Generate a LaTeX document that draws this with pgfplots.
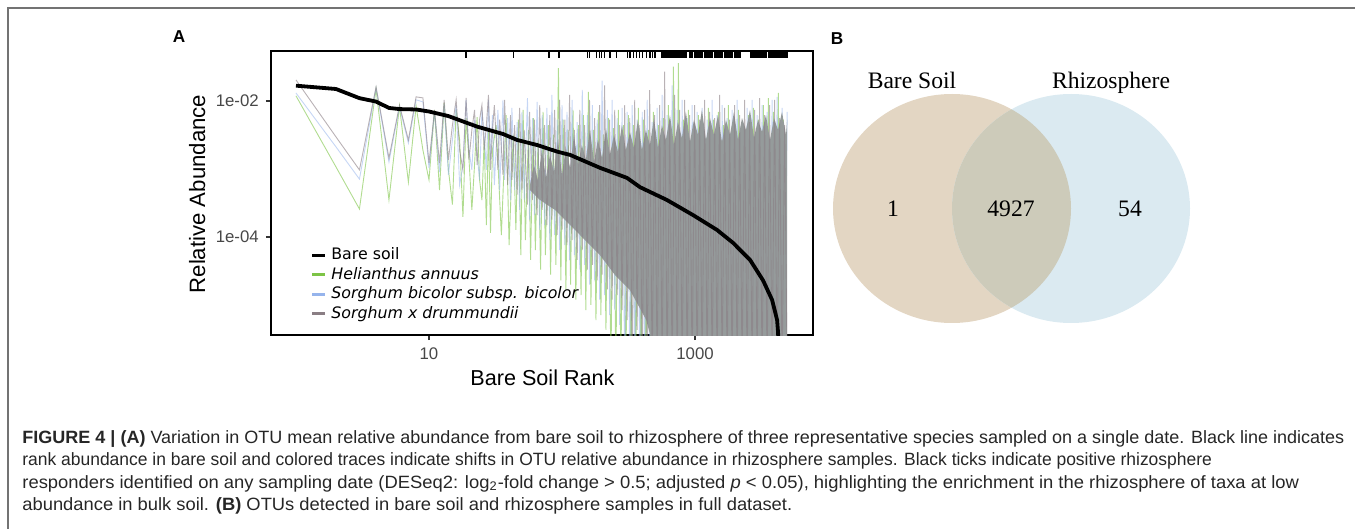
\documentclass[border=0pt]{standalone}
\usepackage{pgfplots}
\pgfplotsset{compat=1.18}
\usepackage{fontspec}
\setmainfont{Liberation Sans}
\newfontfamily\dejavu{DejaVu Sans}
\newfontfamily\serifv{Liberation Serif}

\definecolor{cgreen}{RGB}{125,196,70}
\definecolor{cblue}{RGB}{150,180,236}
\definecolor{cmauve}{RGB}{138,126,132}
\definecolor{ccore}{RGB}{149,155,155}
\definecolor{venL}{RGB}{227,214,195}
\definecolor{venR}{RGB}{219,234,241}
\definecolor{venO}{RGB}{205,203,186}

\begin{document}
\begin{tikzpicture}
\path[use as bounding box] (0,0) rectangle (677.5pt,-264.5pt);

\begin{axis}[
  at={(135.5pt,-167.5pt)}, anchor=south west,
  scale only axis, width=271pt, height=142pt,
  xmode=log, ymode=log,
  xmin=0.649, xmax=7709, ymin=3.62e-6, ymax=0.0543,
  xtick={10,1000}, xticklabels={10,1000},
  ytick={1e-4,1e-2}, yticklabels={1e-04,1e-02},
  minor xtick={}, minor ytick={},
  minor tick style={draw=none},
  xtick pos=bottom, ytick pos=left,
  tick align=outside, major tick length=2.6pt,
  tick style={line width=1.1pt, black!80},
  axis line style={line width=1pt},
  ticklabel style={font=\fontsize{8.4}{10}\selectfont, text=black!72},
]

% Helianthus annuus
\addplot[cgreen, opacity=0.6, line width=0.45pt, forget plot] coordinates {
 (1,1.19e-2) (2,1.07e-3) (3,2.58e-4) (4,1.5e-2) (5,3.5e-4) (6,8.4e-3) (7,6.4e-4) (8,8.4e-3) (9,1.9e-3) (10,6.9e-4)
 (11,7.4e-3) (12,4.9e-4) (13,9.4e-3) (14,9.7e-4) (15,3.0e-4) (16,7.4e-3) (17,2.67e-3) (18,1.97e-4) (19,5.6e-3) (20,1.36e-3)
 (21,2.5e-4) (22,1.15e-3) (23,5.8e-3) (24,6.9e-4) (25,3.5e-4) (26,2.67e-3) (27,1.5e-4) (28,3.75e-3) (29,1.15e-4) (30,1.9e-3)
 (32,4.4e-3) (35,1.07e-4) (38,6.2e-3) (40,7.6e-5) (43,3.2e-3) (45,1.27e-4) (47,5.3e-3) (49,5.4e-5) (51,7.4e-3) (53,9.0e-5)
 (56,3.75e-3) (58,4.6e-5) (61,5.6e-3) (63,6.4e-5) (66,2.7e-3) (69,3.3e-5) (72,6.9e-3) (75,5.4e-5) (79,4.4e-3) (82,2.8e-5)
 (86,3.2e-3) (90,3.9e-5) (94,3.05e-2) (98,2.3e-5)
 (102,5.3e-3) (107,1.7e-5) (111,3.75e-3) (116,2.0e-5) (121,7.4e-3) (127,1.2e-5) (133,4.4e-3) (139,1.4e-5) (145,6.2e-3) (151,8.4e-6)
 (158,1.36e-2) (165,1.0e-5) (172,3.75e-3) (180,6.0e-6) (188,6.9e-3) (196,7.1e-6) (204,3.2e-3) (214,4.3e-6) (223,5.6e-3) (233,1e-6)
 (243,4.0e-3) (254,1e-6) (265,7.4e-3) (277,1e-6) (289,4.4e-3) (302,1e-6)
 (316,6.2e-3) (330,1e-6) (344,4.4e-3) (359,1e-6) (375,7.9e-3) (392,1e-6) (409,5.3e-3) (427,1e-6) (446,3.75e-3) (466,1e-6)
 (486,6.9e-3) (508,1e-6) (530,4.4e-3) (554,1e-6) (578,5.6e-3) (604,1e-6) (631,8.7e-3) (659,1e-6) (688,3.2e-2) (718,1e-6)
 (750,3.6e-2) (783,1e-6) (818,5.3e-3) (854,1e-6) (892,7.4e-3) (931,1e-6) (972,4.4e-3) (1015,1e-6)
 (1060,6.2e-3) (1107,1e-6) (1156,4.0e-3) (1207,1e-6) (1260,7.9e-3) (1316,1e-6) (1374,5.3e-3) (1435,1e-6) (1498,6.9e-3) (1565,1e-6)
 (1634,4.4e-3) (1706,1e-6) (1781,8.7e-3) (1860,1e-6) (1942,5.6e-3) (2028,1e-6) (2118,7.4e-3) (2211,1e-6) (2309,4.4e-3) (2411,1e-6)
 (2517,6.2e-3) (2628,1e-6) (2745,7.9e-3) (2866,1e-6) (2993,5.3e-3) (3125,1e-6) (3263,8.7e-3) (3407,1e-6) (3558,1.1e-2) (3715,1e-6)
 (3879,6.9e-3) (4050,1e-6) (4229,1.31e-2) (4416,1e-6) (4611,5.3e-3) (4820,1e-6)
};

% Sorghum bicolor subsp. bicolor
\addplot[cblue, opacity=0.55, line width=0.45pt, forget plot] coordinates {
 (1,1.31e-2) (2,2.11e-3) (3,7.1e-4) (4,1.55e-2) (5,1.27e-3) (6,8.2e-3) (7,2.41e-3) (8,1.04e-2) (9,9.7e-3) (10,1.03e-3)
 (11,6.9e-3) (12,9.0e-4) (13,9.0e-3) (14,8.2e-4) (15,2.67e-3) (16,8.7e-3) (17,5.8e-4) (18,1.15e-3) (19,1.04e-2) (20,1.9e-3)
 (21,9.7e-4) (22,5.3e-3) (23,1.61e-3) (24,6.9e-4) (25,7.4e-3) (26,3.2e-3) (27,9.7e-4) (28,1.04e-2) (29,1.36e-3) (30,6.2e-3)
 (31,5.8e-4) (33,7.4e-3) (34,4.9e-4) (36,1.04e-2) (37,6.9e-4) (39,5.6e-3) (41,3.5e-4) (42,7.9e-3) (44,4.9e-4) (46,4.9e-3)
 (48,2.5e-4) (50,6.9e-3) (52,3.5e-4) (55,1.1e-2) (57,1.8e-4) (60,5.6e-3) (62,2.1e-4) (65,9.7e-3) (68,1.27e-4) (71,6.2e-3)
 (74,1.5e-4) (77,7.9e-3) (81,9.0e-5) (84,1.23e-2) (88,1.07e-4) (92,5.3e-3) (96,6.4e-5) (100,8.7e-3)
 (105,7.6e-5) (109,6.9e-3) (114,4.6e-5) (119,1.04e-2) (124,5.4e-5) (130,4.9e-3) (136,3.3e-5) (142,1.45e-2) (148,3.9e-5) (155,6.2e-3)
 (161,2.0e-5) (169,8.7e-3) (176,2.3e-5) (184,5.3e-3) (192,1.2e-5) (200,2.0e-2) (209,1.4e-5) (219,7.4e-3) (228,7.1e-6) (238,1.04e-2)
 (249,8.4e-6) (260,5.6e-3) (271,5.1e-6) (283,7.9e-3) (296,1e-6) (309,6.9e-3)
 (323,1e-6) (337,8.7e-3) (352,1e-6) (367,5.3e-3) (384,1e-6) (401,6.9e-3) (418,1e-6) (437,1.04e-2) (456,1e-6) (476,4.9e-3)
 (497,1e-6) (519,7.9e-3) (542,1e-6) (566,1.23e-2) (591,1e-6) (617,6.2e-3) (645,1e-6) (673,1.7e-2) (703,1e-6) (734,7.4e-3)
 (766,1e-6) (800,1.04e-2) (836,1e-6) (873,5.6e-3) (911,1e-6) (951,8.7e-3) (993,1e-6) (1037,6.9e-3)
 (1083,1e-6) (1131,7.9e-3) (1181,1e-6) (1233,5.3e-3) (1288,1e-6) (1345,1.04e-2) (1404,1e-6) (1466,6.2e-3) (1531,1e-6) (1599,8.7e-3)
 (1669,1e-6) (1743,5.6e-3) (1820,1e-6) (1900,7.4e-3) (1984,1e-6) (2072,1.04e-2) (2164,1e-6) (2259,4.9e-3) (2359,1e-6) (2463,7.9e-3)
 (2572,1e-6) (2686,1.04e-2) (2805,1e-6) (2929,6.2e-3) (3058,1e-6) (3193,8.7e-3) (3334,1e-6) (3482,6.9e-3) (3636,1e-6) (3796,1.04e-2)
 (3964,1e-6) (4140,1.15e-2) (4322,1e-6) (4514,7.9e-3) (4713,1e-6) (4928,6.9e-3)
};

% solid grey core where the traces overlap (jagged top edge)
\addplot[fill=ccore, draw=none, forget plot] coordinates {
 (57.4,5.8e-4) (61.5,1.15e-3) (65.9,6.9e-4) (70.6,1.9e-3) (75.7,7.4e-4) (81.2,1.61e-3) (87,9.0e-4) (93.2,2.67e-3)
 (99.9,8.2e-4) (107,2.04e-3) (115,1.03e-3) (123,3.16e-3) (132,1.15e-3) (141,2.25e-3) (151,1.36e-3) (162,3.75e-3)
 (174,1.27e-3) (186,2.67e-3) (200,1.45e-3) (214,4.0e-3) (229,1.61e-3) (246,3.16e-3) (263,1.78e-3) (282,4.4e-3)
 (302,1.9e-3) (324,3.5e-3) (347,2.04e-3) (372,5.3e-3) (399,1.9e-3) (427,3.75e-3) (458,2.25e-3) (491,5.6e-3)
 (526,2.04e-3) (564,4.4e-3) (604,2.67e-3) (648,6.2e-3) (694,2.25e-3) (744,4.9e-3) (797,2.86e-3) (854,6.9e-3)
 (916,2.5e-3) (981,5.3e-3) (1052,3.16e-3) (1127,7.4e-3) (1208,2.67e-3) (1295,5.6e-3) (1388,3.16e-3) (1487,6.2e-3)
 (1594,2.5e-3) (1708,5.3e-3) (1831,3.16e-3) (1962,6.9e-3) (2103,2.67e-3) (2254,5.6e-3) (2415,3.75e-3) (2589,7.4e-3)
 (2774,2.86e-3) (2973,5.3e-3) (3187,3.5e-3) (3415,6.2e-3) (3660,2.67e-3) (3923,5.6e-3) (4204,3.75e-3) (4506,6.9e-3)
 (4829,3.16e-3) (4928,5.3e-3)
 (4928,1e-6) (546,1e-6) (430,6e-6) (324,1.66e-5) (250,2.76e-5) (193,5.4e-5)
 (149,9.0e-5) (115,1.5e-4) (88.6,2.5e-4) (68.3,3.5e-4) (57.4,4.9e-4)
} -- cycle;

% Sorghum x drummundii
\addplot[cmauve, opacity=0.6, line width=0.45pt, forget plot] coordinates {
 (1,2.04e-2) (2,2.96e-3) (3,9.7e-4) (4,1.61e-2) (5,1.45e-3) (6,8.7e-3) (7,2.67e-3) (8,1.15e-2) (9,1.11e-2) (10,1.22e-3)
 (11,7.4e-3) (12,1.22e-3) (13,1.04e-2) (14,1.36e-3) (15,4.4e-3) (16,1.04e-2) (17,1.9e-3) (18,9.7e-4) (19,1.11e-2) (20,1.36e-3)
 (21,3.75e-3) (22,7.4e-3) (23,1.15e-3) (24,5.3e-3) (25,8.7e-3) (26,1.9e-3) (27,4.4e-3) (28,1.23e-2) (29,9.7e-4) (30,3.75e-3)
 (31,8.7e-3) (33,9.7e-4) (34,5.3e-3) (36,8.2e-4) (37,1.04e-2) (39,5.8e-4) (41,6.2e-3) (42,6.9e-4) (44,4.4e-3) (46,4.2e-4)
 (48,7.9e-3) (50,4.9e-4) (52,3.75e-3) (55,3.0e-4) (57,6.9e-3) (60,3.5e-4) (62,5.3e-3) (65,2.1e-4) (68,8.7e-3) (71,2.5e-4)
 (74,4.4e-3) (77,1.5e-4) (81,6.2e-3) (84,1.8e-4) (88,7.4e-3) (92,1.07e-4) (96,1.04e-2) (100,1.27e-4)
 (105,5.3e-3) (109,7.6e-5) (114,1.23e-2) (119,9.0e-5) (124,3.75e-3) (130,4.6e-5) (136,7.4e-3) (142,6.4e-5) (148,4.4e-3) (155,3.3e-5)
 (161,1.04e-2) (169,3.9e-5) (176,5.6e-3) (184,2.3e-5) (192,8.7e-3) (200,2.8e-5) (209,1.7e-2) (219,1.7e-5) (228,5.3e-3) (238,1.2e-5)
 (249,7.4e-3) (260,1.4e-5) (271,4.4e-3) (283,8.4e-6) (296,8.7e-3) (309,6.0e-6)
 (323,5.6e-3) (337,1e-6) (352,1.04e-2) (367,4.3e-6) (384,4.4e-3) (401,1e-6) (418,7.4e-3) (437,1e-6) (456,1.45e-2) (476,1e-6)
 (497,6.2e-3) (519,1e-6) (542,8.7e-3) (566,1e-6) (591,2.7e-2) (617,1e-6) (645,5.3e-3) (673,1e-6) (703,1.23e-2) (734,1e-6)
 (766,7.4e-3) (800,1e-6) (836,1.04e-2) (873,1e-6) (911,6.2e-3) (951,1e-6) (993,8.7e-3) (1037,1e-6)
 (1083,5.3e-3) (1131,1e-6) (1181,1.04e-2) (1233,1e-6) (1288,6.9e-3) (1345,1e-6) (1404,5.6e-3) (1466,1e-6) (1531,1.23e-2) (1599,1e-6)
 (1669,7.9e-3) (1743,1e-6) (1820,5.3e-3) (1900,1e-6) (1984,8.7e-3) (2072,1e-6) (2164,6.2e-3) (2259,1e-6) (2359,1.04e-2) (2463,1e-6)
 (2572,4.9e-3) (2686,1e-6) (2805,7.4e-3) (2929,1e-6) (3058,1.1e-2) (3193,1e-6) (3334,6.2e-3) (3482,1e-6) (3636,8.7e-3) (3796,1e-6)
 (3964,1.04e-2) (4140,1e-6) (4322,5.6e-3) (4514,1e-6) (4713,4.4e-3) (4928,1e-6)
};

% Bare soil rank abundance
\addplot[black, line width=1.9pt, line join=round, forget plot] coordinates {
 (1,0.0168) (2,0.0150) (3,0.0110) (4,0.0098) (5,0.0079) (6,0.0076) (8,0.0075) (10,0.0070)
 (14,0.0060) (18,0.0050) (23,0.0042) (36,0.00327) (46,0.00267) (65,0.00225) (92,0.0018)
 (115,0.00161) (193,0.00104) (308,7.4e-4) (386,5.4e-4) (615,3.5e-4) (966,2.1e-4)
 (1463,1.27e-4) (1931,8.2e-5) (2592,4.6e-5) (3246,2.3e-5) (3796,1.19e-5) (4140,6.0e-6)
 (4210,3.9e-6) (4300,1e-6)
};

% positive rhizosphere responders (rug)
\addplot[only marks, mark=|, mark size=1.65pt, mark options={black, line width=0.65pt}, forget plot] coordinates {
 (19,0.0486) (43,0.0486) (80,0.0486) (95,0.0486) (155,0.0486) (160,0.0486) (182,0.0486) (191,0.0486)
 (199,0.0486) (208,0.0486) (229,0.0486) (258,0.0486) (312,0.0486) (325,0.0486) (344,0.0486) (364,0.0486)
 (381,0.0486) (404,0.0486) (433,0.0486) (459,0.0486) (481,0.0486) (501,0.0486)
 (562,0.0486) (574,0.0486) (587,0.0486) (600,0.0486) (613,0.0486) (627,0.0486) (640,0.0486) (654,0.0486)
 (669,0.0486) (683,0.0486) (698,0.0486) (714,0.0486) (730,0.0486) (746,0.0486) (762,0.0486) (779,0.0486)
 (796,0.0486) (813,0.0486) (831,0.0486) (849,0.0486) (867,0.0486)
 (916,0.0486) (939,0.0486) (962,0.0486) (986,0.0486) (1011,0.0486) (1036,0.0486) (1062,0.0486) (1089,0.0486)
 (1116,0.0486) (1144,0.0486) (1172,0.0486) (1202,0.0486) (1232,0.0486) (1262,0.0486) (1294,0.0486) (1326,0.0486)
 (1360,0.0486) (1394,0.0486) (1428,0.0486) (1464,0.0486) (1501,0.0486) (1538,0.0486) (1577,0.0486) (1616,0.0486)
 (1657,0.0486) (1698,0.0486) (1740,0.0486) (1784,0.0486) (1829,0.0486) (1874,0.0486) (1921,0.0486) (1969,0.0486)
 (2018,0.0486) (2069,0.0486) (2121,0.0486) (2178,0.0486)
 (2624,0.0486) (2687,0.0486) (2751,0.0486) (2817,0.0486) (2885,0.0486) (2954,0.0486) (3025,0.0486) (3098,0.0486)
 (3172,0.0486) (3248,0.0486) (3326,0.0486) (3406,0.0486) (3459,0.0486)
 (3600,0.0486) (3672,0.0486) (3745,0.0486) (3820,0.0486) (3897,0.0486) (3975,0.0486) (4054,0.0486) (4135,0.0486)
 (4218,0.0486) (4302,0.0486) (4388,0.0486) (4476,0.0486) (4566,0.0486) (4657,0.0486) (4750,0.0486) (4845,0.0486)
 (4928,0.0486)
};
\end{axis}

\begin{scope}[x=0.5pt, y=-0.5pt]
% frame
\draw[black!55, line width=0.6pt] (8,545) -- (8,8) -- (1370,8);

% panel labels
\node[font=\bfseries\fontsize{8.6}{10}\selectfont] at (179,37) {A};
\node[font=\bfseries\fontsize{8.6}{10}\selectfont] at (837,38.5) {B};

% axis titles
\node[rotate=90, anchor=base, font=\fontsize{11.1}{13}\selectfont] at (205,194) {Relative Abundance};
\node[anchor=base, font=\fontsize{10.8}{13}\selectfont] at (542.5,385.5) {Bare Soil Rank};

% legend
\def\lgf{\dejavu\fontsize{7.9}{9}\selectfont}
\draw[black, line width=1.5pt] (312,255.5) -- (325,255.5);
\draw[cgreen, line width=1.5pt] (312,274.8) -- (325,274.8);
\draw[cblue, line width=1.5pt] (312,294.2) -- (325,294.2);
\draw[cmauve, line width=1.5pt] (312,313.6) -- (325,313.6);
\node[anchor=base west, inner sep=0pt, font=\lgf] at (331,260) {Bare soil};
\node[anchor=base west, inner sep=0pt, font=\lgf\itshape] at (331,279.4) {Helianthus annuus};
\node[anchor=base west, inner sep=0pt, font=\lgf\itshape] at (331,298.8) {Sorghum bicolor subsp. bicolor};
\node[anchor=base west, inner sep=0pt, font=\lgf\itshape] at (331,318.2) {Sorghum x drummundii};

% Venn diagram
\fill[venL] (952,208.5) ellipse [x radius=59.5pt, y radius=57.25pt];
\fill[venR] (1071,208.5) ellipse [x radius=59.5pt, y radius=57.25pt];
\begin{scope}
\clip (952,208.5) ellipse [x radius=59.5pt, y radius=57.25pt];
\fill[venO] (1071,208.5) ellipse [x radius=59.5pt, y radius=57.25pt];
\end{scope}
\def\vf{\serifv\fontsize{11.8}{14}\selectfont}
\node[anchor=base, inner sep=0pt, font=\vf] at (912,88.3) {Bare Soil};
\node[anchor=base, inner sep=0pt, font=\vf] at (1111,88.3) {Rhizosphere};
\node[anchor=base, inner sep=0pt, font=\vf] at (893,216.7) {1};
\node[anchor=base, inner sep=0pt, font=\vf] at (1011,216.7) {4927};
\node[anchor=base, inner sep=0pt, font=\vf] at (1130,216.7) {54};

% caption
\def\cf{\fontsize{8.9}{11}\selectfont}
\node[anchor=base west, inner sep=0pt, font=\cf, text=black!85] at (22,443) {\scalebox{1.012}[1]{\textbf{FIGURE 4 | (A)} Variation in OTU mean relative abundance from bare soil to rhizosphere of three representative species sampled on a single date. Black line indicates}};
\node[anchor=base west, inner sep=0pt, font=\cf, text=black!85] at (22,465.5) {\scalebox{0.981}[1]{rank abundance in bare soil and colored traces indicate shifts in OTU relative abundance in rhizosphere samples. Black ticks indicate positive rhizosphere}};
\node[anchor=base west, inner sep=0pt, font=\cf, text=black!85] at (22,488) {\scalebox{1.034}[1]{responders identified on any sampling date (DESeq2: log\textsubscript{2}-fold change > 0.5; adjusted \textit{p} < 0.05), highlighting the enrichment in the rhizosphere of taxa at low}};
\node[anchor=base west, inner sep=0pt, font=\cf, text=black!85] at (22,510.5) {\scalebox{1.031}[1]{abundance in bulk soil. \textbf{(B)} OTUs detected in bare soil and rhizosphere samples in full dataset.}};
\end{scope}
\end{tikzpicture}
\end{document}
